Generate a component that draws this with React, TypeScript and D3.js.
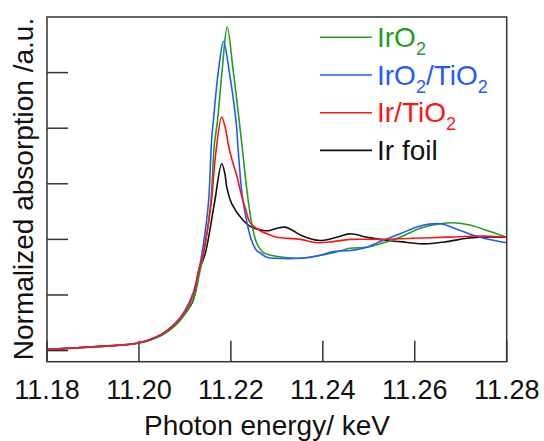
import React, { useRef, useEffect } from 'react';
import * as d3 from 'd3';

// energies (keV) and normalized absorption
const irO2Energy = [11.18, 11.19, 11.2, 11.205, 11.208, 11.21, 11.212, 11.2132, 11.2142, 11.2156, 11.2164, 11.2171, 11.2181, 11.2192, 11.2205, 11.2218, 11.2224, 11.2235, 11.2245, 11.2256, 11.2271, 11.2285, 11.2314, 11.2351, 11.2387, 11.2423, 11.2459, 11.2496, 11.2525, 11.2568, 11.2612, 11.2655, 11.2684, 11.272, 11.2764, 11.28];
const irO2Mu = [0.01, 0.033, 0.068, 0.14, 0.23, 0.33, 0.48, 0.7, 0.9, 1.32, 1.85, 2.07, 2.52, 2.91, 2.52, 2.07, 1.85, 1.44, 1.15, 0.97, 0.88, 0.86, 0.84, 0.83, 0.85, 0.88, 0.92, 0.93, 0.96, 1.02, 1.1, 1.14, 1.15, 1.13, 1.07, 1.02];

const irO2TiO2Energy = [11.18, 11.19, 11.2, 11.205, 11.208, 11.21, 11.2118, 11.213, 11.2137, 11.2151, 11.2158, 11.2162, 11.2173, 11.2184, 11.2196, 11.2211, 11.2216, 11.2224, 11.2235, 11.2245, 11.2256, 11.2263, 11.2278, 11.23, 11.2351, 11.2387, 11.2423, 11.2459, 11.2496, 11.2525, 11.2568, 11.2612, 11.2655, 11.2699, 11.2742, 11.28];
const irO2TiO2Mu = [0.01, 0.035, 0.07, 0.15, 0.25, 0.36, 0.52, 0.72, 0.87, 1.32, 1.89, 2.07, 2.52, 2.78, 2.52, 2.07, 1.8, 1.42, 1.15, 0.99, 0.9, 0.88, 0.84, 0.83, 0.83, 0.85, 0.89, 0.9, 0.93, 0.98, 1.05, 1.12, 1.14, 1.08, 1.02, 0.97];

const irTiO2Energy = [11.18, 11.19, 11.2, 11.205, 11.208, 11.21, 11.2118, 11.213, 11.214, 11.2157, 11.2167, 11.218, 11.2188, 11.2196, 11.2205, 11.2213, 11.2224, 11.2232, 11.2242, 11.2263, 11.2285, 11.23, 11.2351, 11.2387, 11.2423, 11.2459, 11.2525, 11.2596, 11.267, 11.2742, 11.28];
const irTiO2Mu = [0.01, 0.035, 0.07, 0.15, 0.25, 0.35, 0.5, 0.72, 0.88, 1.32, 1.77, 2.1, 2.0, 1.82, 1.68, 1.57, 1.38, 1.27, 1.15, 1.08, 1.04, 1.02, 1.0, 0.97, 0.98, 1.0, 1.0, 1.01, 1.02, 1.03, 1.02];

const irFoilEnergy = [11.18, 11.19, 11.2, 11.205, 11.208, 11.21, 11.2118, 11.2129, 11.2144, 11.2164, 11.218, 11.2187, 11.2191, 11.2202, 11.2227, 11.2245, 11.2271, 11.2285, 11.23, 11.2318, 11.2335, 11.2351, 11.2394, 11.243, 11.2459, 11.2496, 11.2539, 11.2568, 11.2618, 11.267, 11.2713, 11.2742, 11.28];
const irFoilMu = [0.01, 0.033, 0.068, 0.14, 0.23, 0.33, 0.45, 0.7, 0.87, 1.32, 1.68, 1.59, 1.47, 1.32, 1.17, 1.11, 1.08, 1.08, 1.1, 1.11, 1.08, 1.04, 0.99, 1.02, 1.05, 1.02, 0.99, 0.98, 0.96, 0.98, 1.01, 1.02, 1.02];

const xTicks = [11.18, 11.2, 11.22, 11.24, 11.26, 11.28];
const yTicks = [0, 0.5, 1, 1.5, 2, 2.5];

const series = [
  { name: 'IrO2', main: 'IrO', sub: ['2'], color: '#1f9e1f', energy: irO2Energy, mu: irO2Mu },
  { name: 'IrO2/TiO2', main: 'IrO', sub: ['2', '/TiO', '2'], color: '#2459ff', energy: irO2TiO2Energy, mu: irO2TiO2Mu },
  { name: 'Ir/TiO2', main: 'Ir/TiO', sub: ['2'], color: '#ff1414', energy: irTiO2Energy, mu: irTiO2Mu },
  { name: 'Ir foil', main: 'Ir foil', sub: [], color: '#111111', energy: irFoilEnergy, mu: irFoilMu },
];

const App = () => {
  const svgRef = useRef(null);

  useEffect(() => {
    const svg = d3.select(svgRef.current);
    svg.selectAll('*').remove();

    const left = 47, right = 506.7, top = 17, bottom = 361.7;
    const font = '"Liberation Sans", Arial, sans-serif';

    const x = d3.scaleLinear().domain([11.18, 11.28]).range([left, right]);
    const y = d3.scaleLinear().domain([-0.1, 3.0]).range([bottom, top]);

    // inward ticks
    svg.selectAll('.xtick')
      .data(xTicks)
      .enter()
      .append('line')
      .attr('x1', d => x(d))
      .attr('x2', d => x(d))
      .attr('y1', bottom)
      .attr('y2', bottom - 21)
      .attr('stroke', '#333')
      .attr('stroke-width', 1.5);

    svg.selectAll('.ytick')
      .data(yTicks)
      .enter()
      .append('line')
      .attr('x1', left)
      .attr('x2', left + 21)
      .attr('y1', d => y(d))
      .attr('y2', d => y(d))
      .attr('stroke', '#333')
      .attr('stroke-width', 1.5);

    svg.selectAll('.xlabel')
      .data(xTicks)
      .enter()
      .append('text')
      .attr('x', d => x(d))
      .attr('y', 399)
      .attr('text-anchor', 'middle')
      .attr('font-family', font)
      .attr('font-size', 27)
      .attr('fill', '#111')
      .text(d => d3.format('.2f')(d));

    // spectra
    const order = [3, 0, 1, 2];
    order.forEach(i => {
      const s = series[i];
      const pts = s.energy.map((e, j) => [e, s.mu[j]]);
      const line = d3.line()
        .x(d => x(d[0]))
        .y(d => y(d[1]))
        .curve(d3.curveCatmullRom.alpha(0.5));
      svg.append('path')
        .attr('d', line(pts))
        .attr('fill', 'none')
        .attr('stroke', s.color)
        .attr('stroke-width', 1.6);
    });

    svg.append('rect')
      .attr('x', left)
      .attr('y', top)
      .attr('width', right - left)
      .attr('height', bottom - top)
      .attr('fill', 'none')
      .attr('stroke', '#333')
      .attr('stroke-width', 1.5);

    // legend
    series.forEach((s, i) => {
      const ly = 37.3 + i * 37.7;
      svg.append('line')
        .attr('x1', 320)
        .attr('x2', 372)
        .attr('y1', ly)
        .attr('y2', ly)
        .attr('stroke', s.color)
        .attr('stroke-width', 1.6);
      const t = svg.append('text')
        .attr('x', 377)
        .attr('y', ly + 9.5)
        .attr('font-family', font)
        .attr('font-size', 28)
        .attr('fill', s.color);
      t.append('tspan').text(s.main);
      s.sub.forEach(part => {
        if (part === '2') {
          t.append('tspan').attr('dy', 8).attr('font-size', 18).text('2');
        } else {
          t.append('tspan').attr('dy', -8).text(part);
        }
      });
    });

    svg.append('text')
      .attr('x', 267)
      .attr('y', 435)
      .attr('text-anchor', 'middle')
      .attr('font-family', font)
      .attr('font-size', 28)
      .attr('fill', '#111')
      .text('Photon energy/ keV');

    svg.append('text')
      .attr('transform', `translate(33,${(13 + 365) / 2}) rotate(-90)`)
      .attr('text-anchor', 'middle')
      .attr('font-family', font)
      .attr('font-size', 28)
      .attr('fill', '#111')
      .text('Normalized absorption /a.u.');
  }, []);

  return (
    <svg ref={svgRef} width={544} height={441}
      style={{ position: 'absolute', left: 0, top: 0, background: '#fff' }} />
  );
};

export default App;
